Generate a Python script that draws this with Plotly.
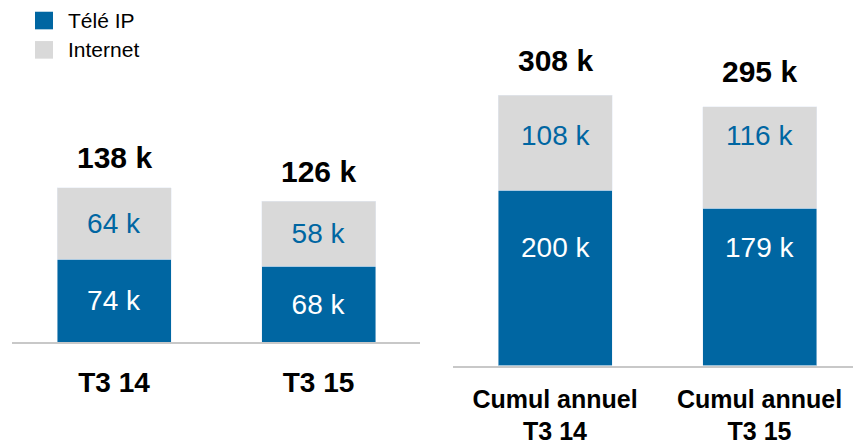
import plotly.graph_objects as go

# ---- data ----
categories_q = ["T3 14", "T3 15"]
tele_q = [74, 68]
internet_q = [64, 58]
totals_q = [138, 126]

categories_cum = ["Cumul annuel<br>T3 14", "Cumul annuel<br>T3 15"]
tele_cum = [200, 179]
internet_cum = [108, 116]
totals_cum = [308, 295]

series_names = ["Télé IP", "Internet"]

# ---- style ----
BLUE = "#0066A2"
GRAY = "#D9D9D9"
LINE = "#C8C8C8"
FONT = "Liberation Sans, Arial, sans-serif"
W, H = 853, 445
BAR_W = 0.557

fig = go.Figure()

# left panel (quarter)
fig.add_trace(go.Bar(x=categories_q, y=tele_q, name=series_names[0], marker_color=BLUE,
                     width=BAR_W, text=[f"{v} k" for v in tele_q], textposition="inside",
                     insidetextanchor="middle", textfont=dict(color="white", size=28, family=FONT),
                     xaxis="x", yaxis="y", showlegend=False))
fig.add_trace(go.Bar(x=categories_q, y=internet_q, name=series_names[1], marker_color=GRAY,
                     width=BAR_W, text=[f"{v} k" for v in internet_q], textposition="inside",
                     insidetextanchor="middle", textfont=dict(color=BLUE, size=28, family=FONT),
                     xaxis="x", yaxis="y", showlegend=False))

# right panel (cumulative)
fig.add_trace(go.Bar(x=categories_cum, y=tele_cum, name=series_names[0], marker_color=BLUE,
                     width=BAR_W, xaxis="x2", yaxis="y2", showlegend=False))
fig.add_trace(go.Bar(x=categories_cum, y=internet_cum, name=series_names[1], marker_color=GRAY,
                     width=BAR_W, xaxis="x2", yaxis="y2", showlegend=False))

annotations = []
# totals
for c, t in zip(categories_q, totals_q):
    annotations.append(dict(x=c, y=t, xref="x", yref="y", text=f"<b>{t} k</b>", showarrow=False,
                            yanchor="middle", yshift=30, font=dict(size=30, color="black", family=FONT)))
for c, t in zip(categories_cum, totals_cum):
    annotations.append(dict(x=c, y=t, xref="x2", yref="y2", text=f"<b>{t} k</b>", showarrow=False,
                            yanchor="middle", yshift=35, font=dict(size=30, color="black", family=FONT)))
# right-panel segment labels at fixed label levels
LBL_TELE_CUM = 135
LBL_NET_CUM = 262
for c, v in zip(categories_cum, tele_cum):
    annotations.append(dict(x=c, y=LBL_TELE_CUM, xref="x2", yref="y2", text=f"{v} k", showarrow=False,
                            yanchor="middle", font=dict(size=28, color="white", family=FONT)))
for c, v in zip(categories_cum, internet_cum):
    annotations.append(dict(x=c, y=LBL_NET_CUM, xref="x2", yref="y2", text=f"{v} k", showarrow=False,
                            yanchor="middle", font=dict(size=28, color=BLUE, family=FONT)))

# manual legend
shapes = []
legend_rows = [(series_names[0], BLUE, 21), (series_names[1], GRAY, 51)]
for name, col, yc in legend_rows:
    shapes.append(dict(type="rect", xref="paper", yref="paper",
                       x0=35 / W, x1=53 / W, y0=1 - (yc + 9) / H, y1=1 - (yc - 9) / H,
                       fillcolor=col, line=dict(width=0)))
    annotations.append(dict(x=66 / W, y=1 - yc / H, xref="paper", yref="paper", text=name,
                            showarrow=False, xanchor="left", yanchor="middle",
                            font=dict(size=21, color="black", family=FONT)))

base_left = 350
base_right = 374
fig.update_layout(
    width=W, height=H, margin=dict(l=0, r=0, t=0, b=0),
    paper_bgcolor="white", plot_bgcolor="white",
    barmode="stack",
    xaxis=dict(domain=[12 / W, 420 / W], range=[-0.499, 1.496], type="category",
               showline=True, linecolor=LINE, linewidth=2, ticks="", showgrid=False,
               tickfont=dict(size=28, color="black", family=FONT), anchor="y",
               ticklabelstandoff=14),
    yaxis=dict(domain=[(H - base_left) / H, 1], range=[0, base_left / 1.145], visible=False,
               showgrid=False, zeroline=False),
    xaxis2=dict(domain=[453 / W, 1], range=[-0.499, 1.457], type="category",
                showline=True, linecolor=LINE, linewidth=2, ticks="", showgrid=False,
                tickfont=dict(size=25, color="black", family=FONT), anchor="y2",
                ticklabelstandoff=10),
    yaxis2=dict(domain=[(H - base_right) / H, 1], range=[0, base_right / 0.898], visible=False,
                showgrid=False, zeroline=False),
    annotations=annotations, shapes=shapes,
)
fig.for_each_xaxis(lambda a: a.update(tickprefix="<b>", ticksuffix="</b>"))

fig.write_html("out.html", config={"displayModeBar": False},
               post_script="document.body.style.margin='0';document.body.style.overflow='hidden';")
